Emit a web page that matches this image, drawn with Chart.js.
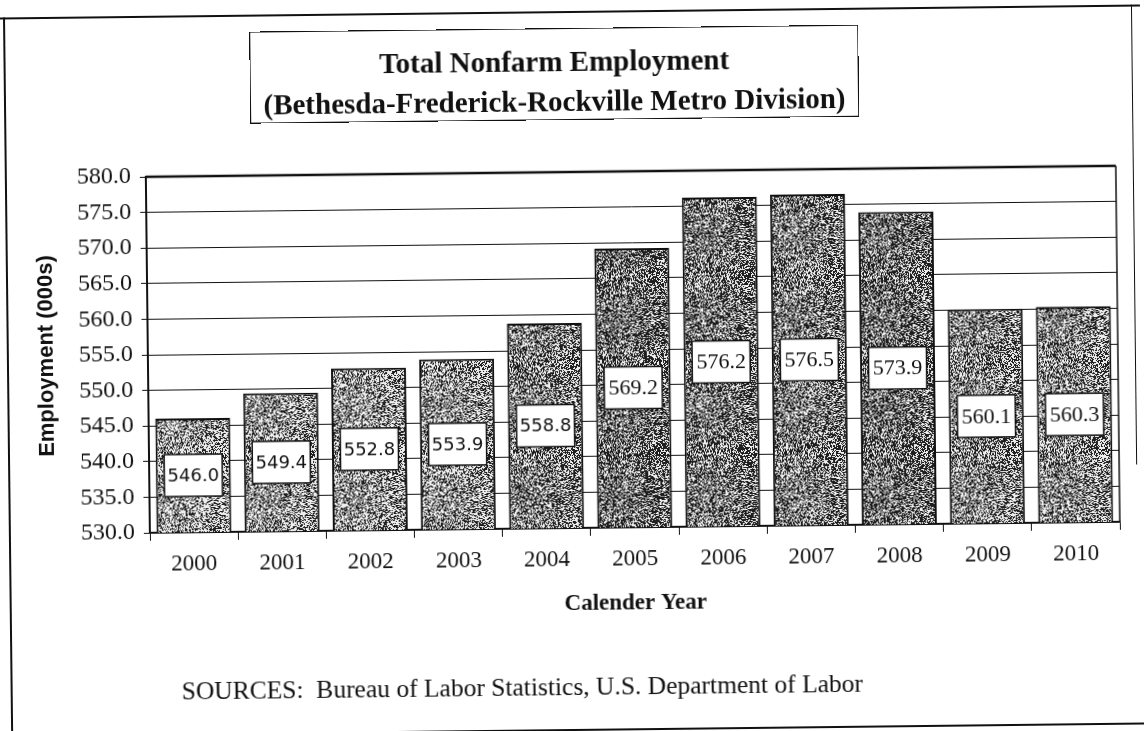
<!DOCTYPE html>
<html>
<head>
<meta charset="utf-8">
<script src="https://cdn.jsdelivr.net/npm/chart.js@4.4.1/dist/chart.umd.min.js"></script>
<style>
  html, body { margin: 0; padding: 0; background: #fff; overflow: hidden; }
  #page { position: absolute; left: 0; top: 0; width: 1144px; height: 731px;
          transform: rotate(-0.65deg); transform-origin: 572px 365px; }
  #chart1 { position: absolute; left: 0; top: 0; }
  .line { position: absolute; background: #111; }
  #titleBox { position: absolute; left: 253px; top: 28px; width: 607px; height: 78px;
              border: 1.5px solid #111; text-align: center;
              font: bold 29px "Liberation Serif", "Times New Roman", serif;
              line-height: 40px; padding-top: 12px; color: #111; white-space: nowrap; }
  #sources { position: absolute; left: 178px; top: 672px;
             font: 25.5px "Liberation Serif", "Times New Roman", serif; color: #111; white-space: pre; }
</style>
</head>
<body>
<div id="page">
  <canvas id="chart1" width="1144" height="731"></canvas>
  <div class="line" style="left:0;top:11px;width:1144px;height:1.5px"></div>
  <div class="line" style="left:7px;top:11px;width:1.5px;height:720px"></div>
  <div class="line" style="left:1135px;top:11px;width:1px;height:460px"></div>
  <div class="line" style="left:350px;top:729px;width:794px;height:1.5px"></div>
  <div id="titleBox">Total Nonfarm Employment<br>(Bethesda-Frederick-Rockville Metro Division)</div>
  <div id="sources">SOURCES:  Bureau of Labor Statistics, U.S. Department of Labor</div>
</div>
<script>
// data
var years = ["2000", "2001", "2002", "2003", "2004", "2005", "2006", "2007", "2008", "2009", "2010"];
var employment = [546.0, 549.4, 552.8, 553.9, 558.8, 569.2, 576.2, 576.5, 573.9, 560.1, 560.3];
var yTicks = { min: 530, max: 580, step: 5 };

// how dark the stippled fill of each bar looks (share of black specks)
var shade = [0.42, 0.44, 0.45, 0.46, 0.54, 0.6, 0.58, 0.55, 0.6, 0.5, 0.5];

var serif = '"Liberation Serif", "Times New Roman", serif';
var sans = '"Liberation Sans", Arial, sans-serif';

// scanned-paper stipple texture (fixed seed so it is the same every time)
var seed = 20110;
function nextRand() {
	seed |= 0; seed = seed + 0x6D2B79F5 | 0;
	var t = Math.imul(seed ^ seed >>> 15, 1 | seed);
	t = t + Math.imul(t ^ t >>> 7, 61 | t) ^ t;
	return ((t ^ t >>> 14) >>> 0) / 4294967296;
}
function stipple(dark) {
	var n = 120;
	var c = document.createElement('canvas');
	c.width = n; c.height = n;
	var g = c.getContext('2d');
	var img = g.createImageData(n, n);
	for (var i = 0; i < n * n; i++) {
		var v = nextRand() < dark ? 30 : 238;
		img.data[i * 4] = v; img.data[i * 4 + 1] = v; img.data[i * 4 + 2] = v; img.data[i * 4 + 3] = 255;
	}
	g.putImageData(img, 0, 0);
	return g.createPattern(c, 'repeat');
}

var ctx = document.getElementById("chart1").getContext("2d");

var plotFrame = {
	id: 'plotFrame',
	afterDraw: function(chart) {
		var a = chart.chartArea, c = chart.ctx;
		c.save();
		c.strokeStyle = '#111';
		c.lineWidth = 2.5;
		c.beginPath(); c.moveTo(a.left, a.top); c.lineTo(a.right, a.top); c.stroke();
		c.lineWidth = 1.5;
		c.beginPath(); c.moveTo(a.right, a.top); c.lineTo(a.right, a.bottom); c.stroke();
		c.restore();
	}
};

// white boxed value in the middle of each bar
var valueBoxes = {
	id: 'valueBoxes',
	afterDraw: function(chart) {
		var c = chart.ctx;
		var xs = chart.scales.x, ys = chart.scales.y;
		var base = ys.getPixelForValue(yTicks.min);
		c.save();
		for (var i = 0; i < employment.length; i++) {
			var cx = xs.getPixelForValue(i);
			var cy = (ys.getPixelForValue(employment[i]) + base) / 2;
			var w = 58, h = 42;
			c.fillStyle = '#fff';
			c.fillRect(cx - w / 2, cy - h / 2, w, h);
			c.strokeStyle = '#111';
			c.lineWidth = 1.5;
			c.strokeRect(cx - w / 2, cy - h / 2, w, h);
			c.fillStyle = '#111';
			c.textAlign = 'center';
			c.textBaseline = 'middle';
			c.font = i < 5 ? '18px "DejaVu Sans", sans-serif' : '22px ' + serif;
			c.fillText(employment[i].toFixed(1), cx, cy + 1);
		}
		c.restore();
	}
};

new Chart(ctx, {
	type: 'bar',
	data: {
		labels: years,
		datasets: [{
			label: 'Employment',
			data: employment,
			backgroundColor: shade.map(function(s) { return stipple(s); }),
			borderColor: '#111',
			borderWidth: 2,
			borderSkipped: false,
			barPercentage: 0.85,
			categoryPercentage: 1.0
		}]
	},
	options: {
		responsive: false,
		animation: false,
		layout: { padding: { left: 30, top: 172, right: 26, bottom: 111 } },
		plugins: { legend: { display: false }, tooltip: { enabled: false } },
		scales: {
			x: {
				afterFit: function(s) { s.height = 92; },
				grid: { display: true, offset: true, drawOnChartArea: false, tickLength: 8, color: '#111', lineWidth: 1 },
				border: { display: true, color: '#111', width: 1.5 },
				ticks: { color: '#111', padding: 10, font: { family: serif, size: 23 } },
				title: { display: true, text: 'Calender Year', color: '#111',
					font: { family: serif, size: 23, weight: 'bold' }, padding: { top: 0, bottom: 2 } }
			},
			y: {
				min: yTicks.min,
				max: yTicks.max,
				afterFit: function(s) { s.width = 118; },
				grid: { color: '#111', lineWidth: 1, tickLength: 6 },
				border: { display: true, color: '#111', width: 2 },
				ticks: { stepSize: yTicks.step, color: '#111', padding: 9,
					font: { family: serif, size: 24 },
					callback: function(v) { return v.toFixed(1); } },
				title: { display: true, text: 'Employment (000s)', color: '#111',
					font: { family: sans, size: 22, weight: 'bold' }, padding: { top: 4, bottom: 0 } }
			}
		}
	},
	plugins: [plotFrame, valueBoxes]
});
</script>
</body>
</html>
